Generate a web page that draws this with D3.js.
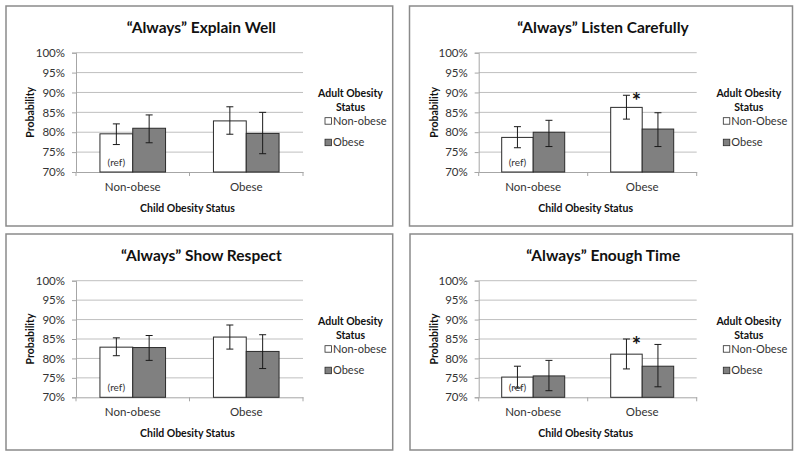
<!DOCTYPE html>
<html><head><meta charset="utf-8">
<script src="https://cdn.jsdelivr.net/npm/d3@7"></script>
<style>
html,body{margin:0;padding:0;background:#fff;}
svg{display:block;font-family:Lato,"Carlito",sans-serif;}
</style></head>
<body><svg id="c" width="800" height="457"></svg>
<script>
// ---------- data ----------
const panelTitles = ["\u201CAlways\u201D Explain Well", "\u201CAlways\u201D Listen Carefully", "\u201CAlways\u201D Show Respect", "\u201CAlways\u201D Enough Time"];
const childCategories = ["Non-obese", "Obese"];
const adultSeries = ["Non-obese", "Obese"];
const legendTitle = ["Adult Obesity", "Status"];
const legendLabels = [["Non-obese", "Obese"], ["Non-Obese", "Obese"], ["Non-obese", "Obese"], ["Non-Obese", "Obese"]];
const yTicks = [0.70, 0.75, 0.80, 0.85, 0.90, 0.95, 1.00];
const yAxisTitle = "Probability";
const xAxisTitle = "Child Obesity Status";
const refLabel = "(ref)";
// per panel: [child non-obese, child obese]
const adultNonObeseValues = [[0.796, 0.8285], [0.787, 0.8625], [0.829, 0.855], [0.752, 0.811]];
const adultNonObeseLow    = [[0.769, 0.795],  [0.761, 0.833],  [0.807, 0.824], [0.724, 0.773]];
const adultNonObeseHigh   = [[0.821, 0.864],  [0.814, 0.893],  [0.853, 0.886], [0.780, 0.850]];
const adultObeseValues    = [[0.810, 0.797],  [0.800, 0.808],  [0.828, 0.818], [0.755, 0.780]];
const adultObeseLow       = [[0.7735, 0.746], [0.764, 0.764],  [0.795, 0.774], [0.717, 0.727]];
const adultObeseHigh      = [[0.8435, 0.850], [0.830, 0.849],  [0.859, 0.861], [0.795, 0.836]];
const significant = [[[false,false],[false,false]], [[false,true],[false,false]], [[false,false],[false,false]], [[false,true],[false,false]]];

// ---------- layout ----------
const panels = [
  {ox:0,   oy:0,   box:[6,6,386.7,220],   left:76,   right:303,   top:52.7, bottom:172,   ylx:30.5, legX:350.5},
  {ox:400, oy:0,   box:[9.5,6,383,220],   left:78.7, right:296.7, top:52.7, bottom:172,   ylx:34,   legX:348.8},
  {ox:0,   oy:228, box:[6,6,386.7,216],   left:76,   right:303,   top:52.7, bottom:169.3, ylx:30.5, legX:350.5},
  {ox:400, oy:228, box:[10,6,382.5,216],  left:78.7, right:296.7, top:52.7, bottom:169.3, ylx:34,   legX:348.8}
];
const fills = ["#ffffff", "#808080"];
const svg = d3.select("#c");

panels.forEach((P, i) => {
  const g = svg.append("g").attr("transform", `translate(${P.ox},${P.oy})`);
  g.append("rect").attr("x", P.box[0]).attr("y", P.box[1]).attr("width", P.box[2]).attr("height", P.box[3])
    .attr("fill", "#fff").attr("stroke", "#8a8a8a").attr("stroke-width", 1.5);

  const y = d3.scaleLinear().domain([0.70, 1.00]).range([P.bottom, P.top]);
  const x = d3.scaleBand().domain(childCategories).range([P.left, P.right]).padding(0);
  const xs = d3.scaleBand().domain(adultSeries).range([0, x.bandwidth()]).paddingInner(0).paddingOuter(0.73);

  // gridlines
  g.append("g").selectAll("line").data(yTicks.slice(1)).join("line")
    .attr("x1", P.left).attr("x2", P.right)
    .attr("y1", d => y(d)).attr("y2", d => y(d))
    .attr("stroke", "#bfbfbf").attr("stroke-width", 1);

  // y axis
  const ya = g.append("g").attr("transform", `translate(${P.left},0)`)
    .call(d3.axisLeft(y).tickValues(yTicks).tickFormat(d3.format(".0%")).tickSize(4).tickPadding(7));
  ya.select(".domain").attr("stroke", "#a6a6a6");
  ya.selectAll(".tick line").attr("stroke", "#a6a6a6");
  ya.selectAll("text").attr("font-size", 11.5).attr("fill", "#333").attr("font-family", "Lato");

  // x axis
  const xa = g.append("g").attr("transform", `translate(0,${P.bottom})`)
    .call(d3.axisBottom(x).tickSize(0).tickPadding(11));
  xa.select(".domain").attr("stroke", "#a6a6a6");
  xa.selectAll("text").attr("font-size", 11.5).attr("fill", "#333").attr("font-family", "Lato");
  xa.selectAll(".edge").data([P.left, (P.left + P.right) / 2, P.right]).join("line")
    .attr("class", "edge").attr("x1", d => d).attr("x2", d => d).attr("y1", 0).attr("y2", 4)
    .attr("stroke", "#a6a6a6");

  // bars
  const seriesVals = [adultNonObeseValues[i], adultObeseValues[i]];
  const seriesLow = [adultNonObeseLow[i], adultObeseLow[i]];
  const seriesHigh = [adultNonObeseHigh[i], adultObeseHigh[i]];
  const rows = [];
  adultSeries.forEach((s, si) => childCategories.forEach((c, ci) => {
    rows.push({s, si, c, ci, v: seriesVals[si][ci], lo: seriesLow[si][ci], hi: seriesHigh[si][ci], sig: significant[i][si][ci]});
  }));
  g.append("g").selectAll("rect").data(rows).join("rect")
    .attr("x", d => x(d.c) + xs(d.s)).attr("width", xs.bandwidth())
    .attr("y", d => y(d.v)).attr("height", d => P.bottom - y(d.v))
    .attr("fill", d => fills[d.si]).attr("stroke", "#2b2b2b").attr("stroke-width", 1);

  // error bars
  const eb = g.append("g").attr("stroke", "#1a1a1a").attr("stroke-width", 1);
  rows.forEach(d => {
    const cx = x(d.c) + xs(d.s) + xs.bandwidth() / 2;
    eb.append("line").attr("x1", cx).attr("x2", cx).attr("y1", y(d.hi)).attr("y2", y(d.lo));
    eb.append("line").attr("x1", cx - 3.5).attr("x2", cx + 3.5).attr("y1", y(d.hi)).attr("y2", y(d.hi));
    eb.append("line").attr("x1", cx - 3.5).attr("x2", cx + 3.5).attr("y1", y(d.lo)).attr("y2", y(d.lo));
    if (d.sig) {
      g.append("text").attr("x", cx + 10).attr("y", y(d.hi) + 14)
        .attr("text-anchor", "middle").attr("font-size", 22).attr("font-weight", "bold")
        .attr("fill", "#111").text("*");
    }
  });

  // (ref)
  g.append("text")
    .attr("x", x(childCategories[0]) + xs(adultSeries[0]) + xs.bandwidth() / 2)
    .attr("y", P.bottom - 6).attr("text-anchor", "middle")
    .attr("font-size", 10).attr("fill", "#333").text(refLabel);

  // title
  g.append("text").attr("x", (P.box[0] * 2 + P.box[2]) / 2 + 2).attr("y", 32.5)
    .attr("text-anchor", "middle").attr("font-size", 15.5).attr("font-weight", "bold")
    .attr("fill", "#111").text(panelTitles[i]);

  // axis titles
  g.append("text").attr("transform", `translate(${P.ylx},${(P.top + P.bottom) / 2}) rotate(-90)`)
    .attr("text-anchor", "middle").attr("dy", "0.35em").attr("font-size", 10.5).attr("font-weight", "bold")
    .attr("fill", "#111").text(yAxisTitle);
  g.append("text").attr("x", (P.left + P.right) / 2 - 2).attr("y", P.bottom + 40)
    .attr("text-anchor", "middle").attr("font-size", 10.5).attr("font-weight", "bold")
    .attr("fill", "#111").text(xAxisTitle);

  // legend
  const lg = g.append("g");
  lg.selectAll("text.lt").data(legendTitle).join("text").attr("class", "lt")
    .attr("x", P.legX).attr("y", (d, k) => P.top + 44 + k * 14)
    .attr("text-anchor", "middle").attr("font-size", 10.5).attr("font-weight", "bold")
    .attr("fill", "#111").text(d => d);
  const items = lg.selectAll("g.li").data(legendLabels[i]).join("g").attr("class", "li")
    .attr("transform", (d, k) => `translate(${P.legX - 25.5},${P.top + 72 + k * 21.5})`);
  items.append("rect").attr("x", 0).attr("y", -7).attr("width", 6.5).attr("height", 6.5)
    .attr("fill", (d, k) => fills[k]).attr("stroke", "#2b2b2b").attr("stroke-width", 0.8);
  items.append("text").attr("x", 8).attr("y", 0).attr("font-size", 11).attr("fill", "#333").text(d => d);
});
</script>
</body></html>
